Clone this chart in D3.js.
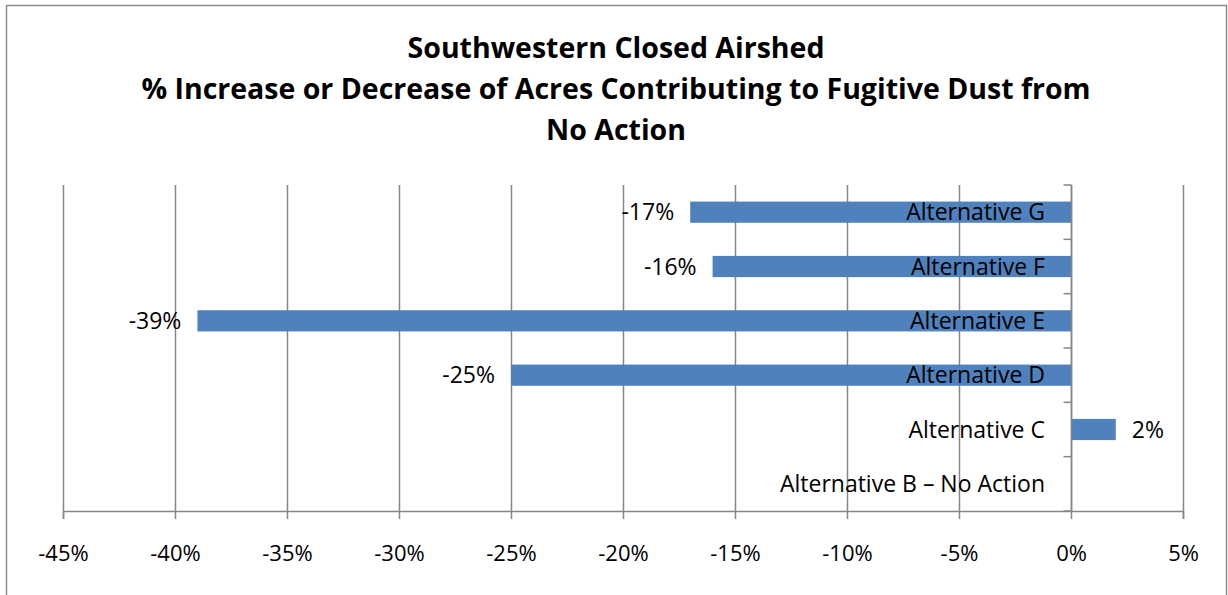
<!DOCTYPE html>
<html>
<head>
<meta charset="utf-8">
<script src="https://cdn.jsdelivr.net/npm/d3@7"></script>
<style>
  body { margin: 0; background: #fff; }
  svg { display: block; font-family: "Open Sans", "Liberation Sans", sans-serif; }
  .title { font-weight: bold; font-size: 28.5px; fill: #000; }
  .lbl { font-size: 23px; fill: #000; }
  .tick text { font-size: 22px; fill: #000; }
</style>
</head>
<body>
<script>
//chart data, bottom to top as in the original sheet
var categories = ["Alternative B \u2013 No Action", "Alternative C", "Alternative D", "Alternative E", "Alternative F", "Alternative G"];
var values = [0, 2, -25, -39, -16, -17];
var xTicks = [-45, -40, -35, -30, -25, -20, -15, -10, -5, 0, 5];
var titleLines = ["Southwestern Closed Airshed", "% Increase or Decrease of Acres Contributing to Fugitive Dust from", "No Action"];

var w = 1228, h = 595;
var data = categories.map(function(c, i) { return {cat: c, val: values[i]}; });

var svg = d3.select("body").append("svg")
  .attr("width", w)
  .attr("height", h);

//outer chart frame
svg.append("rect")
  .attr("x", 6.5).attr("y", 5.5)
  .attr("width", 1220).attr("height", 620)
  .attr("fill", "#fff")
  .attr("stroke", "#8c8c8c")
  .attr("stroke-width", 1.5);

//title
svg.append("g").selectAll("text")
  .data(titleLines)
  .enter().append("text")
  .attr("class", "title")
  .attr("text-anchor", "middle")
  .attr("x", 616)
  .attr("y", function(d, i) { return 58 + i * 41; })
  .text(function(d) { return d; });

//scales
var x = d3.scaleLinear().domain([-45, 5]).range([63, 1183]);
var y = d3.scaleBand()
  .domain(categories.slice().reverse())
  .range([185, 511])
  .paddingInner(0.61)
  .paddingOuter(0.305);

//vertical gridlines
svg.append("g").selectAll("line")
  .data(xTicks)
  .enter().append("line")
  .attr("x1", function(d) { return Math.round(x(d)) + 0.5; })
  .attr("x2", function(d) { return Math.round(x(d)) + 0.5; })
  .attr("y1", 185).attr("y2", 511)
  .attr("stroke", "#868686")
  .attr("stroke-width", 1.5);

//x axis
var xAxis = d3.axisBottom(x)
  .tickValues(xTicks)
  .tickSize(8)
  .tickFormat(function(d) { return d + "%"; });
var gx = svg.append("g")
  .attr("transform", "translate(0,511)")
  .call(xAxis);
gx.attr("font-family", null).attr("font-size", null);
gx.select(".domain").attr("stroke", "#868686").attr("stroke-width", 1.5);
gx.selectAll(".tick line").attr("stroke", "#868686").attr("stroke-width", 1.5);
gx.selectAll(".tick text")
  .attr("y", 50).attr("dy", null)
  .attr("fill", "#000");

//bars
svg.append("g").selectAll("rect")
  .data(data.filter(function(d) { return d.val !== 0; }))
  .enter().append("rect")
  .attr("x", function(d) { return x(Math.min(0, d.val)); })
  .attr("width", function(d) { return Math.abs(x(d.val) - x(0)); })
  .attr("y", function(d) { return y(d.cat); })
  .attr("height", y.bandwidth())
  .attr("fill", "#4f81bd");

//y axis on the zero line, ticks at band edges
var x0 = Math.round(x(0)) + 0.5;
var edges = d3.range(categories.length + 1).map(function(i) { return 185 + i * (326 / categories.length); });
svg.append("line")
  .attr("x1", x0).attr("x2", x0)
  .attr("y1", 185).attr("y2", 511)
  .attr("stroke", "#868686").attr("stroke-width", 1.5);
svg.append("g").selectAll("line")
  .data(edges)
  .enter().append("line")
  .attr("x1", x0 - 8).attr("x2", x0)
  .attr("y1", function(d) { return d; })
  .attr("y2", function(d) { return d; })
  .attr("stroke", "#868686").attr("stroke-width", 1.5);

//category labels next to the zero line
svg.append("g").selectAll("text")
  .data(data)
  .enter().append("text")
  .attr("class", "lbl")
  .attr("text-anchor", "end")
  .attr("x", x(0) - 26)
  .attr("y", function(d) { return y(d.cat) + y.bandwidth() / 2 + 8; })
  .text(function(d) { return d.cat; });

//value labels
svg.append("g").selectAll("text")
  .data(data.filter(function(d) { return d.val !== 0; }))
  .enter().append("text")
  .attr("class", "lbl")
  .attr("text-anchor", function(d) { return d.val < 0 ? "end" : "start"; })
  .attr("x", function(d) { return d.val < 0 ? x(d.val) - 16 : x(d.val) + 16; })
  .attr("y", function(d) { return y(d.cat) + y.bandwidth() / 2 + 8; })
  .text(function(d) { return d.val + "%"; });
</script>
</body>
</html>
